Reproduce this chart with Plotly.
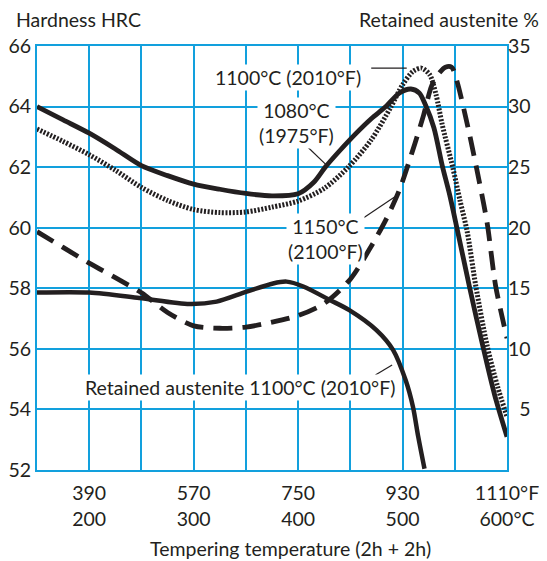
import plotly.graph_objects as go

# ---- data (temperatures in °C) ----
x_1080 = [150, 175, 200, 225, 250, 275, 300, 325, 350, 375, 400, 415, 426, 440, 455, 470, 484, 497, 508, 516, 522, 530, 538, 545, 552, 564, 577, 588, 600]
hrc_1080 = [64.0, 63.56, 63.12, 62.6, 62.05, 61.72, 61.44, 61.27, 61.13, 61.05, 61.12, 61.5, 62.0, 62.55, 63.1, 63.6, 64.0, 64.45, 64.58, 64.45, 64.05, 63.3, 62.05, 61.1, 60.0, 58.06, 56.07, 54.5, 53.1]

x_1100 = [150, 175, 200, 225, 250, 275, 300, 325, 350, 375, 400, 425, 448, 470, 489, 500, 510, 518, 526, 532, 538, 548, 555, 562, 570, 581, 591, 600]
hrc_1100 = [63.26, 62.85, 62.41, 61.9, 61.33, 60.9, 60.6, 60.5, 60.52, 60.68, 60.88, 61.3, 62.0, 62.9, 64.0, 64.72, 65.16, 65.27, 65.05, 64.4, 63.4, 62.0, 60.9, 59.85, 58.1, 56.1, 54.75, 53.76]

x_1150 = [150, 175, 200, 225, 250, 275, 300, 325, 350, 375, 400, 425, 450, 468, 484, 497, 505, 512, 520, 528, 535, 541, 547, 552, 564, 573, 581, 589, 597, 600]
hrc_1150 = [59.87, 59.35, 58.83, 58.35, 57.85, 57.2, 56.76, 56.68, 56.72, 56.88, 57.1, 57.5, 58.3, 59.27, 60.26, 61.25, 62.05, 62.8, 63.7, 64.7, 65.1, 65.3, 65.3, 64.85, 63.1, 61.6, 60.15, 58.1, 56.8, 56.35]

x_ra = [150, 200, 248, 296, 322, 350, 376, 389, 405, 430, 449, 475, 491, 503, 510, 515, 521]
ra_1100 = [14.65, 14.65, 14.2, 13.7, 13.9, 14.7, 15.4, 15.55, 15.15, 14.05, 13.2, 11.55, 9.9, 7.4, 5.2, 2.75, 0.1]

x_ticks = [150, 200, 250, 300, 350, 400, 450, 500, 550, 600]
x_ticktext = ["", "390<br>200", "", "570<br>300", "", "750<br>400", "", "930<br>500", "", "1110°F<br>600°C"]
y_ticks = [52, 54, 56, 58, 60, 62, 64, 66]
y2_ticks = [5, 10, 15, 20, 25, 30, 35]
y2_ticktext = ["\u20075", "10", "15", "20", "25", "30", "35"]

INK = "#231f20"
GRID = "#12a0dd"
FONT = "Lato"
FS = 19.5

fig = go.Figure()
fig.add_trace(go.Scatter(x=x_1080, y=hrc_1080, mode="lines", line=dict(color=INK, width=4.8, shape="spline", smoothing=0.8)))
fig.add_trace(go.Scatter(x=x_1100, y=hrc_1100, mode="lines", line=dict(color=INK, width=5, dash="2px,1.6px", shape="spline", smoothing=0.8)))
fig.add_trace(go.Scatter(x=x_1150, y=hrc_1150, mode="lines", line=dict(color=INK, width=4.8, dash="19px,10px", shape="spline", smoothing=0.8)))
fig.add_trace(go.Scatter(x=x_ra, y=ra_1100, yaxis="y2", mode="lines", line=dict(color=INK, width=4.5, shape="spline", smoothing=0.8)))

ann_font = dict(family=FONT, size=FS, color=INK)
annotations = [
    dict(x=390, y=64.95, xref="x", yref="y", text="1100°C (2010°F)", showarrow=False, bgcolor="white", font=ann_font),
    dict(x=398, y=63.45, xref="x", yref="y", text="1080°C<br>(1975°F)", showarrow=False, bgcolor="white", font=ann_font),
    dict(x=426, y=59.62, xref="x", yref="y", text="1150°C<br>(2100°F)", showarrow=False, bgcolor="white", font=ann_font),
    dict(x=344, y=54.71, xref="x", yref="y", text="Retained austenite 1100°C (2010°F)", showarrow=False, bgcolor="white", font=ann_font),
    dict(x=-0.048, y=1.062, xref="paper", yref="paper", xanchor="left", yanchor="middle", text="Hardness HRC", showarrow=False, font=ann_font),
    dict(x=1.073, y=1.062, xref="paper", yref="paper", xanchor="right", yanchor="middle", text="Retained austenite %", showarrow=False, font=ann_font),
    dict(x=0.539, y=-0.186, xref="paper", yref="paper", xanchor="center", yanchor="middle", text="Tempering temperature (2h + 2h)", showarrow=False, font=ann_font),
]

leader = dict(color=INK, width=1.2)
shapes = [
    dict(type="line", xref="x", yref="y", x0=470, y0=65.27, x1=504, y1=65.27, line=leader),
    dict(type="line", xref="x", yref="y", x0=405.4, y0=62.79, x1=426.2, y1=62.1, line=leader),
    dict(type="line", xref="x", yref="y", x0=457.8, y0=60.21, x1=492.7, y1=61.02, line=leader),
    dict(type="line", xref="x", yref="y", x0=474.0, y0=55.14, x1=490.0, y1=55.47, line=leader),
]

# page body has an 8px margin, so the figure is 8px smaller to fill 547x561
fig.update_layout(
    width=539, height=553,
    margin=dict(l=29, r=40, t=38, b=91),
    paper_bgcolor="white", plot_bgcolor="white",
    showlegend=False,
    font=dict(family=FONT, size=FS, color=INK),
    annotations=annotations,
    shapes=shapes,
    xaxis=dict(range=[150, 600], tickvals=x_ticks, ticktext=x_ticktext, showgrid=True, gridcolor=GRID, gridwidth=1.6,
               showline=True, linecolor=GRID, linewidth=2, mirror=True, ticks="", zeroline=False, automargin=False,
               ticklabelstandoff=5, tickfont=dict(family=FONT, size=FS, color=INK)),
    yaxis=dict(range=[52, 66], tickvals=y_ticks, showgrid=True, gridcolor=GRID, gridwidth=1.6,
               showline=True, linecolor=GRID, linewidth=2, mirror=True, ticks="", zeroline=False, automargin=False,
               tickfont=dict(family=FONT, size=FS, color=INK)),
    yaxis2=dict(range=[0, 35], tickvals=y2_ticks, ticktext=y2_ticktext, overlaying="y", side="right", showgrid=False,
                zeroline=False, ticks="", automargin=False, ticklabelstandoff=0, tickfont=dict(family=FONT, size=FS, color=INK)),
)

fig.write_html("out.html")
